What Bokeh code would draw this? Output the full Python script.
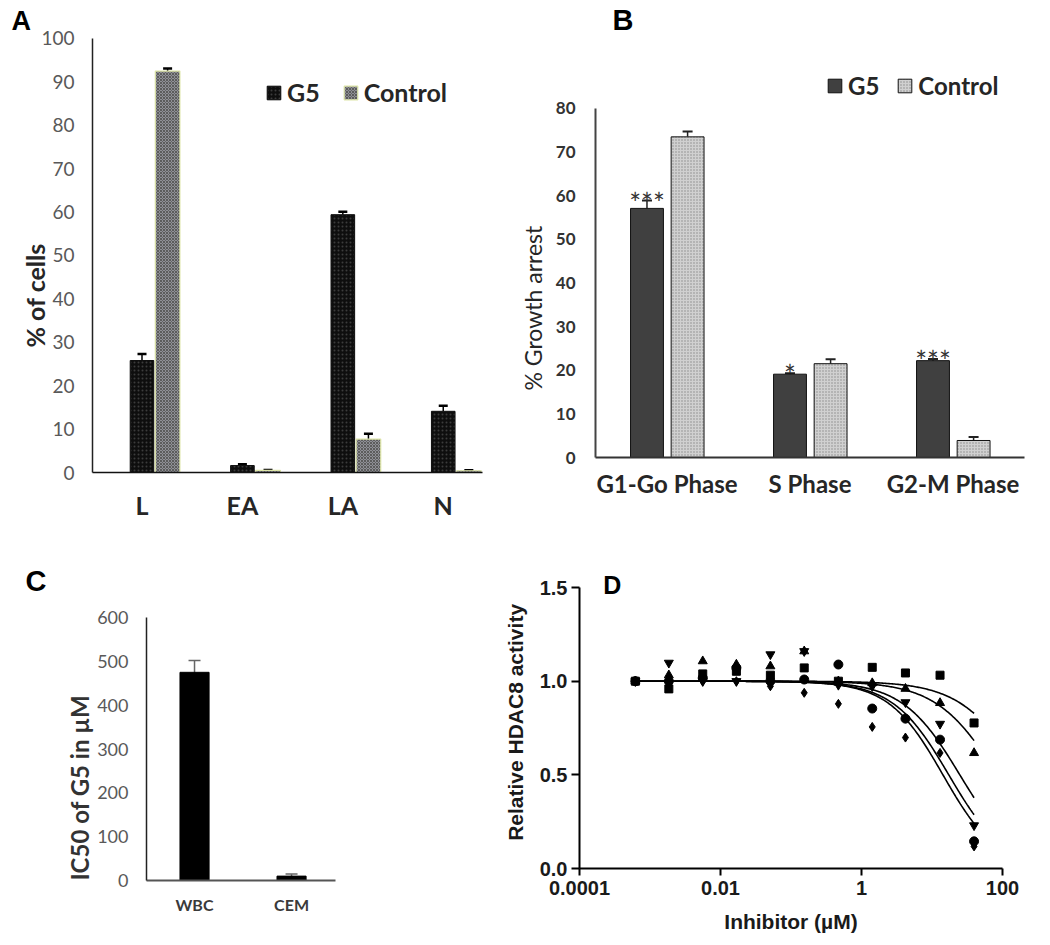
import numpy as np
from bokeh.plotting import figure
from bokeh.layouts import column, row
from bokeh.models import (Range1d, FixedTicker, Whisker, TeeHead, ColumnDataSource,
                          Label, Legend, LegendItem, CustomJSTickFormatter,
                          PrintfTickFormatter, Title)
from bokeh.embed import file_html
from bokeh.resources import INLINE
from bokeh.core.properties import value

# ---------------- data ----------------
# Panel A
a_categories = ["L", "EA", "LA", "N"]
a_g5 = [25.8, 1.6, 59.4, 14.1]
a_g5_err = [1.5, 0.3, 0.7, 1.3]
a_ctrl = [92.5, 0.5, 7.7, 0.4]
a_ctrl_err = [0.6, 0.1, 1.2, 0.1]
a_yticks = [0, 10, 20, 30, 40, 50, 60, 70, 80, 90, 100]

# Panel B
b_categories = ["G1-Go Phase", "S Phase", "G2-M Phase"]
b_g5 = [57.1, 19.1, 22.2]
b_g5_err = [1.8, 0.2, 0.4]
b_ctrl = [73.5, 21.5, 3.9]
b_ctrl_err = [1.2, 1.0, 0.8]
b_sig = ["***", "*", "***"]
b_yticks = [0, 10, 20, 30, 40, 50, 60, 70, 80]

# Panel C
c_categories = ["WBC", "CEM"]
c_ic50 = [475, 10]
c_err = [27, 5]
c_yticks = [0, 100, 200, 300, 400, 500, 600]

# Panel D
d_conc = [0.00062, 0.00185, 0.0056, 0.0168, 0.051, 0.154, 0.47, 1.42, 4.2, 13.0, 39.5]
d_square = [1.0, 0.959, 1.039, 1.053, 1.032, 1.071, 1.0, 1.074, 1.044, 1.032, 0.777]
d_up = [1.0, 1.032, 1.107, 1.089, 1.08, 1.16, 1.0, 0.99, 0.96, 0.884, 0.617]
d_down = [1.0, 1.098, 1.0, 1.0, 1.143, 1.16, 0.98, 0.973, 0.887, 0.772, 0.23]
d_circle = [1.0, 1.0, 1.018, 1.071, 1.0, 1.009, 1.089, 0.854, 0.8, 0.688, 0.145]
d_diamond = [1.0, 1.0, 1.0, 1.0, 0.973, 0.938, 0.879, 0.756, 0.699, 0.617, 0.118]
d_ic50 = [190.0, 85.0, 24.8, 17.3, 14.3]
d_hill = [1.0, 1.0, 1.07, 1.1, 1.13]
d_xticks = [0.0001, 0.01, 1, 100]
d_yticks = [0.0, 0.5, 1.0, 1.5]

EXCEL = "Lato"
ARIAL = "Liberation Sans"


def base_fig(letter=None, letter_offset=0, letter_size="28px", **kw):
    p = figure(output_backend="svg", toolbar_location=None, title=letter, **kw)
    p.outline_line_color = None
    p.xgrid.visible = False
    p.ygrid.visible = False
    p.background_fill_color = "white"
    p.border_fill_color = "white"
    if letter:
        p.title.align = "left"
        p.title.offset = letter_offset
        p.title.standoff = 0
        p.title.text_font = ARIAL
        p.title.text_font_size = letter_size
        p.title.text_font_style = "bold"
        p.title.text_color = "black"
    return p


def no_ticks(ax):
    ax.major_tick_out = 0
    ax.major_tick_in = 0
    ax.minor_tick_out = 0
    ax.minor_tick_in = 0


def side_label(p, text, size, offset, standoff, style="bold", color="#262626"):
    p.add_layout(Title(text=text, align="left", offset=offset, standoff=standoff,
                       text_font=EXCEL, text_font_size=size, text_font_style=style,
                       text_color=color), "left")


# ---------------- Panel A ----------------
ax_pos = np.arange(1, len(a_categories) + 1)
pA = base_fig("A", -81, "27px", width=500, height=545, min_border_left=92,
              min_border_right=18, min_border_top=35, min_border_bottom=73,
              x_range=Range1d(0.507, 4.391), y_range=Range1d(0, 100.69))
srcA = ColumnDataSource(dict(xg=ax_pos, xc=ax_pos + 0.255,
                             g5=a_g5, g5_top=np.add(a_g5, a_g5_err),
                             ctrl=a_ctrl, ctrl_top=np.add(a_ctrl, a_ctrl_err)))
rA1 = pA.vbar(x="xg", top="g5", width=0.235, source=srcA, fill_color="#0e0e0e",
              line_color="#0e0e0e", hatch_pattern="dot", hatch_color="#3c3c3c",
              hatch_scale=4, hatch_weight=1)
rA2 = pA.vbar(x="xc", top="ctrl", width=0.245, source=srcA, fill_color="#8f9096",
              line_color="#dde5a8", line_width=1.2, hatch_pattern="diagonal_cross",
              hatch_color="#5c5c5c", hatch_scale=3, hatch_weight=1)
for b, u, l in (("xg", "g5_top", "g5"), ("xc", "ctrl_top", "ctrl")):
    pA.add_layout(Whisker(source=srcA, base=b, upper=u, lower=l, line_color="black",
                          line_width=1.5,
                          upper_head=TeeHead(size=9, line_width=2.5, line_color="black"),
                          lower_head=None))
pA.xaxis.ticker = FixedTicker(ticks=[int(v) for v in ax_pos])
pA.xaxis.major_label_overrides = {int(v): c for v, c in zip(ax_pos, a_categories)}
pA.xaxis.major_label_text_font = EXCEL
pA.xaxis.major_label_text_font_size = "25px"
pA.xaxis.major_label_text_font_style = "bold"
pA.xaxis.major_label_text_color = "#262626"
pA.xaxis.major_label_standoff = 17
pA.xaxis.axis_line_color = "#111111"
pA.xaxis.axis_line_width = 1.5
no_ticks(pA.xaxis)
pA.yaxis.ticker = FixedTicker(ticks=a_yticks)
pA.yaxis.bounds = (0, 100)
pA.yaxis.major_label_text_font = EXCEL
pA.yaxis.major_label_text_font_size = "19px"
pA.yaxis.major_label_text_color = "#595959"
pA.yaxis.major_label_standoff = 18
pA.yaxis.axis_line_color = "#222222"
pA.yaxis.axis_line_width = 1.5
no_ticks(pA.yaxis)
legA = Legend(items=[LegendItem(label="G5", renderers=[rA1]),
                     LegendItem(label="Control", renderers=[rA2])],
              orientation="horizontal", location=(173, 365), glyph_width=17,
              glyph_height=17, label_standoff=5, spacing=22, padding=0, margin=0,
              border_line_color=None, background_fill_alpha=0,
              label_text_font=EXCEL, label_text_font_size="25px",
              label_text_font_style="bold", label_text_color="#262626", label_height=17)
pA.add_layout(legA)
side_label(pA, "% of cells", "25px", 125, -22)

# ---------------- Panel B ----------------
bx_pos = np.arange(1, len(b_categories) + 1)
pB = base_fig("B", 17, "29px", width=550, height=545, min_border_left=95,
              min_border_right=26, min_border_top=35, min_border_bottom=88,
              x_range=Range1d(0.5, 3.5), y_range=Range1d(0, 96.73))
srcB = ColumnDataSource(dict(xg=bx_pos - 0.14, xc=bx_pos + 0.144,
                             g5=b_g5, g5_top=np.add(b_g5, b_g5_err),
                             ctrl=b_ctrl, ctrl_top=np.add(b_ctrl, b_ctrl_err)))
rB1 = pB.vbar(x="xg", top="g5", width=0.23, source=srcB, fill_color="#404040",
              line_color="#111111", line_width=1)
rB2 = pB.vbar(x="xc", top="ctrl", width=0.23, source=srcB, fill_color="#d0d0d0",
              line_color="#111111", line_width=1, hatch_pattern="dot",
              hatch_color="#8a8a8a", hatch_scale=3, hatch_weight=1)
for b, u, l in (("xg", "g5_top", "g5"), ("xc", "ctrl_top", "ctrl")):
    pB.add_layout(Whisker(source=srcB, base=b, upper=u, lower=l, line_color="#222222",
                          line_width=1.5,
                          upper_head=TeeHead(size=10, line_width=2, line_color="#222222"),
                          lower_head=None))
pB.text(x=bx_pos - 0.14, y=np.add(b_g5, b_g5_err) - 0.5, text=b_sig,
        text_align="center", text_baseline="alphabetic", text_font=value(EXCEL),
        text_font_size="28px", text_color="#333333")
pB.xaxis.ticker = FixedTicker(ticks=[int(v) for v in bx_pos])
pB.xaxis.major_label_overrides = {int(v): c for v, c in zip(bx_pos, b_categories)}
pB.xaxis.major_label_text_font = EXCEL
pB.xaxis.major_label_text_font_size = "24px"
pB.xaxis.major_label_text_font_style = "bold"
pB.xaxis.major_label_text_color = "#262626"
pB.xaxis.major_label_standoff = 11
pB.xaxis.axis_line_color = "#333333"
pB.xaxis.axis_line_width = 2
no_ticks(pB.xaxis)
pB.yaxis.ticker = FixedTicker(ticks=b_yticks)
pB.yaxis.bounds = (0, 80)
pB.yaxis.major_label_text_font = EXCEL
pB.yaxis.major_label_text_font_size = "17px"
pB.yaxis.major_label_text_font_style = "bold"
pB.yaxis.major_label_text_color = "#333333"
pB.yaxis.major_label_standoff = 20
pB.yaxis.axis_line_color = "#444444"
pB.yaxis.axis_line_width = 2
no_ticks(pB.yaxis)
legB = Legend(items=[LegendItem(label="G5", renderers=[rB1]),
                     LegendItem(label="Control", renderers=[rB2])],
              orientation="horizontal", location=(231, 357), glyph_width=17,
              glyph_height=17, label_standoff=5, spacing=17, padding=0, margin=0,
              border_line_color=None, background_fill_alpha=0,
              label_text_font=EXCEL, label_text_font_size="24px",
              label_text_font_style="bold", label_text_color="#262626", label_height=17)
pB.add_layout(legB)
side_label(pB, "% Growth arrest", "23px", 67, 12, style="normal")

# ---------------- Panel C ----------------
cx_pos = np.arange(1, len(c_categories) + 1)
pC = base_fig("C", -121, "29px", width=500, height=395, min_border_left=146,
              min_border_right=165, min_border_top=51, min_border_bottom=60,
              x_range=Range1d(0.505, 2.453), y_range=Range1d(0, 648.0))
srcC = ColumnDataSource(dict(x=cx_pos, v=c_ic50, up=np.add(c_ic50, c_err),
                             lo=np.subtract(c_ic50, c_err)))
pC.vbar(x="x", top="v", width=0.3, source=srcC, fill_color="black", line_color="black")
pC.add_layout(Whisker(source=srcC, base="x", upper="up", lower="lo", line_color="#666666",
                      line_width=1.5,
                      upper_head=TeeHead(size=12, line_width=1.5, line_color="#666666"),
                      lower_head=TeeHead(size=12, line_width=1.5, line_color="#666666")))
pC.xaxis.ticker = FixedTicker(ticks=[int(v) for v in cx_pos])
pC.xaxis.major_label_overrides = {int(v): c for v, c in zip(cx_pos, c_categories)}
pC.xaxis.major_label_text_font = EXCEL
pC.xaxis.major_label_text_font_size = "16px"
pC.xaxis.major_label_text_font_style = "bold"
pC.xaxis.major_label_text_color = "#3a3a3a"
pC.xaxis.major_label_standoff = 14
pC.xaxis.axis_line_color = "#555555"
pC.xaxis.axis_line_width = 2
no_ticks(pC.xaxis)
pC.yaxis.ticker = FixedTicker(ticks=c_yticks)
pC.yaxis.bounds = (0, 600)
pC.yaxis.major_label_text_font = EXCEL
pC.yaxis.major_label_text_font_size = "18px"
pC.yaxis.major_label_text_color = "#595959"
pC.yaxis.major_label_standoff = 18
pC.yaxis.axis_line_color = "#222222"
pC.yaxis.axis_line_width = 1.5
no_ticks(pC.yaxis)
side_label(pC, "IC50 of G5 in µM", "24px", 0, 1, color="#333333")

# ---------------- Panel D ----------------
pD = base_fig(None, x_axis_type="log", width=550, height=395,
              min_border_left=76, min_border_right=48, min_border_top=25,
              min_border_bottom=72,
              x_range=Range1d(0.0001, 100), y_range=Range1d(0, 1.591))
xs_curve = np.logspace(np.log10(d_conc[0]), np.log10(d_conc[-1]), 300)
for ic, h in zip(d_ic50, d_hill):
    pD.line(xs_curve, 1.0 / (1.0 + (xs_curve / ic) ** h), line_color="black", line_width=1.6)
pD.scatter(d_conc, d_square, marker="square", size=8, color="black")
pD.scatter(d_conc, d_up, marker="triangle", size=9, color="black")
pD.scatter(d_conc, d_down, marker="inverted_triangle", size=9, color="black")
pD.scatter(d_conc, d_circle, marker="circle", size=9, color="black")
pD.scatter(d_conc, d_diamond, marker="diamond", size=9, color="black")
pD.xaxis.ticker = FixedTicker(ticks=d_xticks)
pD.xaxis.formatter = CustomJSTickFormatter(code="return tick.toString();")
pD.yaxis.ticker = FixedTicker(ticks=d_yticks)
pD.yaxis.formatter = PrintfTickFormatter(format="%.1f")
pD.yaxis.bounds = (0, 1.5)
for axis, tick_len, standoff in ((pD.xaxis, 7, 5), (pD.yaxis, 8, 4)):
    axis.axis_line_width = 2
    axis.axis_line_color = "black"
    axis.major_tick_line_width = 2
    axis.major_tick_line_color = "black"
    axis.major_tick_out = tick_len
    axis.major_tick_in = 0
    axis.minor_tick_out = 0
    axis.minor_tick_in = 0
    axis.major_label_text_font = ARIAL
    axis.major_label_text_font_size = "20px"
    axis.major_label_text_font_style = "bold"
    axis.major_label_text_color = "#1a1a1a"
    axis.major_label_standoff = standoff
    axis.axis_label_text_font = ARIAL
    axis.axis_label_text_font_size = "21px"
    axis.axis_label_text_font_style = "bold"
    axis.axis_label_text_color = "#1a1a1a"
pD.xaxis.axis_label = "Inhibitor (µM)"
pD.xaxis.axis_label_standoff = 12
pD.yaxis.axis_label = "Relative  HDAC8 activity"
pD.yaxis.axis_label_standoff = 10
pD.add_layout(Label(x=0.000218, y=1.515, text="D", text_font=ARIAL, text_font_size="25px",
                    text_font_style="bold", text_color="black", text_baseline="alphabetic"))

layout = column(row(column(pA), column(pB)), row(column(pC), column(pD)))
open("out.html", "w").write(file_html(layout, INLINE))
